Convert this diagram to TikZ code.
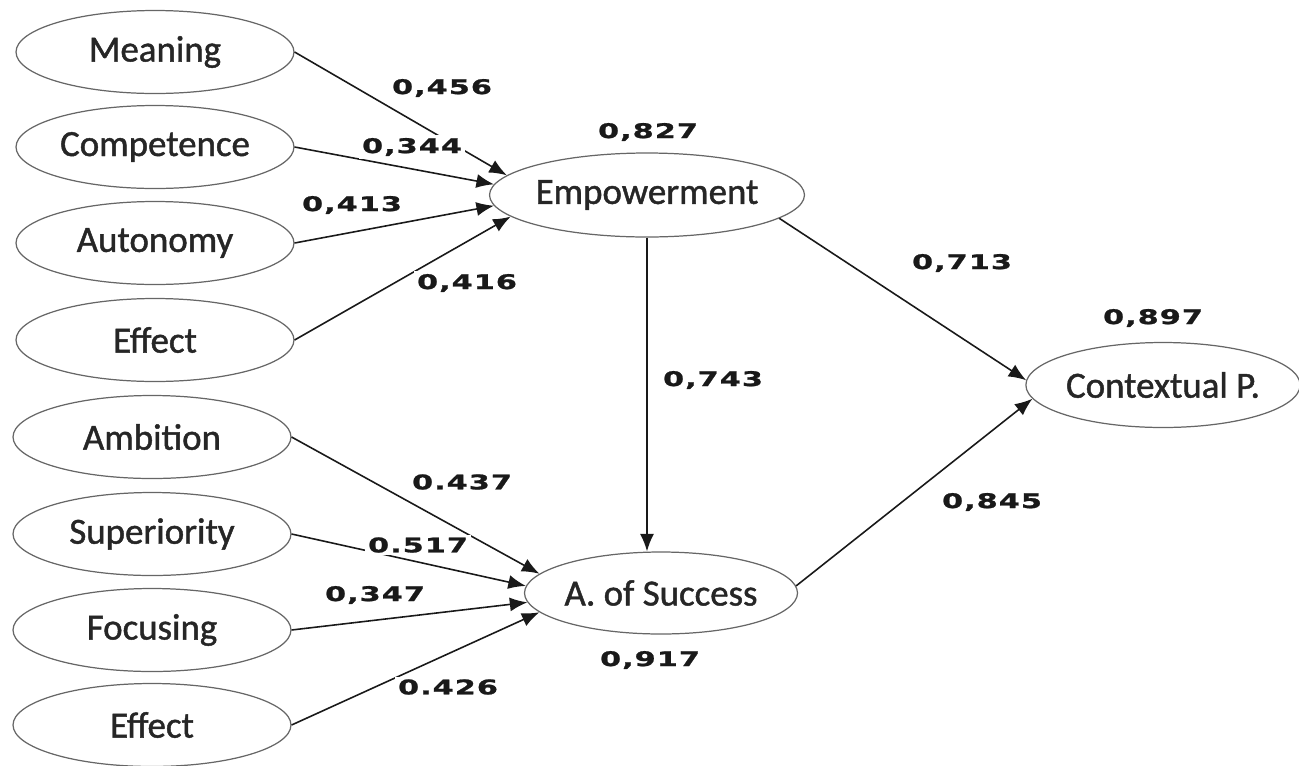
\documentclass[tikz,border=0pt]{standalone}
\usepackage{fontspec}
\setmainfont{Carlito}
\newfontfamily\nodefont[FakeBold=1.2]{Carlito}
\newfontfamily\valfont[FakeStretch=1.5,LetterSpace=5,FakeBold=1.2]{DejaVu Sans}
\usetikzlibrary{shapes.geometric,arrows.meta}

\tikzset{
  latent/.style={ellipse, draw=black!60, line width=0.7pt, fill=white,
    minimum width=5.56cm, minimum height=1.66cm, inner sep=0pt,
    text=black!85, font=\nodefont\fontsize{21}{25}\selectfont},
  path/.style={-{Latex[length=10pt,width=8pt]}, line width=0.9pt, black!90},
  coef/.style={fill=white, inner sep=1.5pt, text=black!90,
    font=\valfont\bfseries\fontsize{11.5}{13}\selectfont}
}

\begin{document}
\begin{tikzpicture}[x=0.02cm,y=-0.02cm]
      \useasboundingbox (0,0) rectangle (1299,765);

      % dimensions on the left
      \foreach \nm/\txt/\y in {mea/Meaning/52, com/Competence/147,
                               aut/Autonomy/243, effa/Effect/340}
        \node[latent] (\nm) at (155,\y) {\txt};
      \foreach \nm/\txt/\y in {amb/Ambition/437, sup/Superiority/534,
                               foc/Focusing/630, effb/Effect/725}
        \node[latent] (\nm) at (152,\y) {\txt};

      % constructs
      \node[latent, minimum width=5.5cm, minimum height=1.68cm] (emp) at (647,195) {Empowerment};
      \node[latent, minimum width=5.46cm, minimum height=1.64cm] (suc) at (661,593) {A. of Success};
      \node[latent, minimum width=5.44cm, minimum height=1.7cm] (ctx) at (1163,385) {Contextual P.};

      % paths
      \foreach \src/\ang in {mea/172, com/176, aut/184, effa/189}
        \draw[path] (\src.east) -- (emp.\ang);
      \foreach \src/\ang in {amb/171, sup/177, foc/184, effb/189}
        \draw[path] (\src.east) -- (suc.\ang);
      \draw[path] (emp.south) -- (emp.south |- suc.north);
      \draw[path] (emp.-10) -- (ctx.178);
      \draw[path] (suc.3) -- (ctx.186);

      % coefficients
      \node[coef] (c456) at (442,88) {0,456};
      \node[coef] (c344) at (412,147) {0,344};
      \node[coef] (c413) at (352,205) {0,413};
      \node[coef] (c416) at (467,283) {0,416};
      \node[coef] (c827) at (648,132) {0,827};
      \node[coef] (c713) at (962,263) {0,713};
      \node[coef] (c897) at (1153,318) {0,897};
      \node[coef] (c743) at (713,380) {0,743};
      \node[coef] (c845) at (992,502) {0,845};
      \node[coef] (c437) at (462,482) {0.437};
      \node[coef] (c517) at (418,545) {0.517};
      \node[coef] (c347) at (375,595) {0,347};
      \node[coef] (c426) at (448,687) {0.426};
      \node[coef] (c917) at (650,660) {0,917};
    \end{tikzpicture}
\end{document}
